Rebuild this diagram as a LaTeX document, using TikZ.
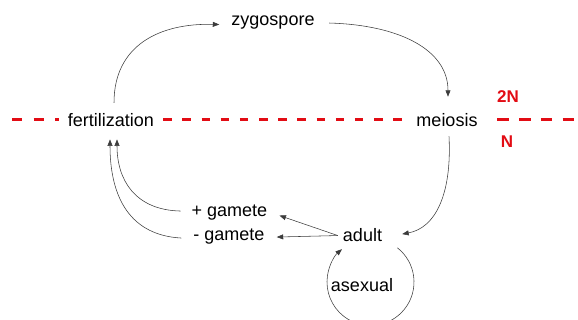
\documentclass[tikz,border=0pt]{standalone}
\usepackage{fontspec}
\setmainfont{Liberation Sans}
\usetikzlibrary{arrows.meta}
\definecolor{lblred}{RGB}{226,12,20}
\definecolor{linegray}{RGB}{60,60,60}
\begin{document}
\begin{tikzpicture}[x=1pt,y=-1pt,
  lbl/.style={font=\fontsize{18}{20}\selectfont, inner sep=2pt, anchor=base},
  cutlbl/.style={lbl, fill=white, inner xsep=5pt},
  ploid/.style={lbl, font=\fontsize{17}{20}\selectfont\bfseries, text=lblred},
  conn/.style={draw=linegray, line width=0.55pt, -{Triangle[length=6.5pt,width=5pt]}},
  divider/.style={draw=lblred, line width=3pt}]
\useasboundingbox (0,0) rectangle (578,320);
% labels
\node[lbl] (zyg) at (273,26) {zygospore};
\node[cutlbl] (fert) at (111,127) {fertilization};
\node[cutlbl] (mei) at (447,127) {meiosis};
\node[ploid] (twoN) at (508,103) {2N};
\node[ploid] (oneN) at (507,148) {N};
\node[lbl] (gplus) at (229.5,217) {+ gamete};
\node[lbl] (gminus) at (229,241) {- gamete};
\node[lbl] (adult) at (362.5,242) {adult};
\node[lbl] (asex) at (362,291) {asexual};
\coordinate (loopc) at (370.5,282);
% haploid / diploid divider
\coordinate (dl) at (12,120);
\coordinate (dr) at (580,120);
\draw[divider, dash pattern=on 10pt off 11.5pt] (dl) -- ([xshift=-4pt]fert.west |- dl);
\draw[divider, dash pattern=on 8.5pt off 10.67pt] ([xshift=4pt]fert.east |- dl) -- ([xshift=-8pt]mei.west |- dl);
\draw[divider, dash pattern=on 11.5pt off 10.3pt] ([xshift=14.5pt]mei.east |- dl) -- (dr);
% connectors
\draw[conn] ([shift={(3pt,9pt)}]fert.north) .. controls (114,45) and (160,23) .. ([xshift=-10pt,yshift=-1.5pt]zyg.west);
\draw[conn] ([xshift=12.5pt]zyg.east) .. controls (400,25) and (448,50) .. ([shift={(1pt,15pt)}]mei.north);
\draw[conn] ([shift={(2pt,-7pt)}]mei.south) .. controls (452,195) and (435,228) .. ([xshift=18pt,yshift=1.5pt]adult.east);
\draw[conn] ([xshift=-3pt]adult.west) -- ([xshift=10pt,yshift=-2.5pt]gplus.east);
\draw[conn] ([xshift=-3pt]adult.west) -- ([xshift=10pt]gminus.east);
\draw[conn] ([xshift=-9pt,yshift=2pt]gplus.west) .. controls (135,210) and (117,180) .. ([shift={(6pt,-10pt)}]fert.south);
\draw[conn] ([xshift=-10pt,yshift=-1pt]gminus.west) .. controls (125,235) and (110,190) .. ([shift={(-1pt,-10pt)}]fert.south);
\begin{scope}
\clip (0,0) rectangle (578,320);
\draw[conn] ([shift={(52:43.5pt)}]loopc) arc[start angle=52, end angle=-229, radius=43.5pt];
\end{scope}
\end{tikzpicture}
\end{document}
